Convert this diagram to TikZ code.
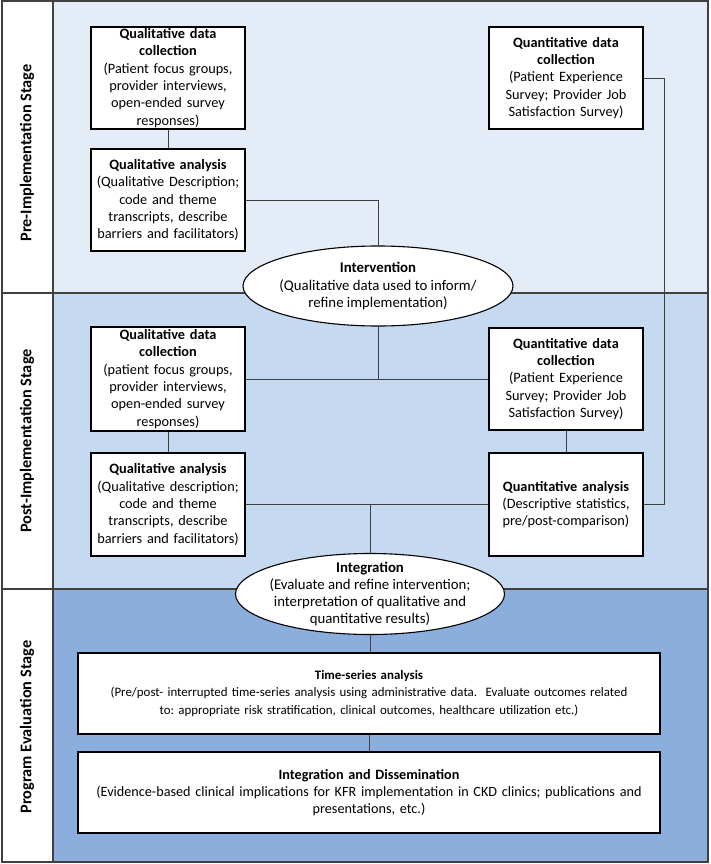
\documentclass[tikz,border=0pt]{standalone}
\usepackage{fontspec}
\setmainfont{Carlito}
\usetikzlibrary{shapes.geometric}
\frenchspacing
\definecolor{prefill}{RGB}{228,236,247}
\definecolor{postfill}{RGB}{197,217,240}
\definecolor{progfill}{RGB}{140,174,220}
\definecolor{rulegray}{RGB}{64,64,64}
\tikzset{
  stagebox/.style={rectangle,draw=black,fill=white,line width=1.1pt,align=center,
    inner xsep=2pt,inner ysep=0.5pt,font=\fontsize{14.3}{17.3}\selectfont},
  oval/.style={ellipse,draw=black,fill=white,line width=1.1pt,inner sep=0pt},
  ovaltext/.style={align=center,inner sep=0pt,font=\fontsize{14.8}{17.3}\selectfont},
  stagelabel/.style={rotate=90,font=\fontsize{16.3}{18}\selectfont\bfseries},
  link/.style={draw=rulegray,line width=0.9pt},
  frame/.style={draw=rulegray,line width=1.3pt}
}
\begin{document}
\begin{tikzpicture}[x=1pt,y=-1pt]
\useasboundingbox (0,0) rectangle (710,864);
\fill[prefill] (53,1) rectangle (708,293);
\fill[postfill] (53,293) rectangle (708,589);
\fill[progfill] (53,589) rectangle (708,862);
\draw[frame] (2,1) rectangle (708,862);
\draw[frame] (53,1) -- (53,862);
\draw[frame] (2,293) -- (708,293);
\draw[frame] (2,589) -- (708,589);
\node[stagelabel] (prelab) at (27,153) {Pre-Implementation Stage};
\node[stagelabel] (postlab) at (27,441) {Post-Implementation Stage};
\node[stagelabel] (proglab) at (27,727) {Program Evaluation Stage};
% pre-implementation
\node[stagebox,text width=150,minimum height=102] (qdcpre) at (168,78)
  {\textbf{Qualitative data}\\\textbf{collection}\\(Patient focus groups,\\provider interviews,\\open-ended survey\\responses)};
\node[stagebox,text width=150,minimum height=102] (qapre) at (168,200)
  {\textbf{Qualitative analysis}\\(Qualitative Description;\\code and theme\\transcripts, describe\\barriers and facilitators)};
\node[stagebox,text width=150,minimum height=102] (qncpre) at (566,78)
  {\textbf{Quantitative data}\\\textbf{collection}\\(Patient Experience\\Survey; Provider Job\\Satisfaction Survey)};
% post-implementation
\node[stagebox,text width=150,minimum height=104] (qdcpost) at (168,379)
  {\textbf{Qualitative data}\\\textbf{collection}\\(patient focus groups,\\provider interviews,\\open-ended survey\\responses)};
\node[stagebox,text width=150,minimum height=103] (qapost) at (168,504.5)
  {\textbf{Qualitative analysis}\\(Qualitative description;\\code and theme\\transcripts, describe\\barriers and facilitators)};
\node[stagebox,text width=150,minimum height=102] (qncpost) at (566,379)
  {\textbf{Quantitative data}\\\textbf{collection}\\(Patient Experience\\Survey; Provider Job\\Satisfaction Survey)};
\node[stagebox,text width=150,minimum height=103] (qnapost) at (566,504.5)
  {\textbf{Quantitative analysis}\\(Descriptive statistics,\\pre/post-comparison)};
% program evaluation
\node[stagebox,font=\fontsize{12.9}{17.3}\selectfont,text width=578,minimum height=81] (tsa) at (369,693.5)
  {\textbf{Time-series analysis}\\(Pre/post- interrupted time-series analysis using administrative data.\ \ Evaluate outcomes related\\to: appropriate risk stratification, clinical outcomes, healthcare utilization etc.)};
\node[stagebox,font=\fontsize{14.2}{17.3}\selectfont,text width=578,minimum height=81] (diss) at (369,792.5)
  {\textbf{Integration and Dissemination}\\(Evidence-based clinical implications for KFR implementation in CKD clinics; publications and\\presentations, etc.)};
% links
\draw[link] (qdcpre) -- (qapre);
\draw[link] (qdcpost) -- (qapost);
\draw[link] (qncpost) -- (qnapost);
\draw[link] (tsa) -- (diss);
\draw[link] (qncpre.east) -- ++(21,0) |- (qnapost.east);
\draw[link] (qdcpost.east) -- (qncpost.west);
\draw[link] (qapost.east) -- (qnapost.west);
\node[oval,minimum width=270,minimum height=80] (intv) at (378,286) {};
\node[ovaltext] (intvtext) at (intv) {\textbf{Intervention}\\(Qualitative data used to inform/\\refine implementation)};
\node[oval,minimum width=269,minimum height=81] (integ) at (370,594) {};
\node[ovaltext] (integtext) at (integ) {\textbf{Integration}\\(Evaluate and refine intervention;\\interpretation of qualitative and\\quantitative results)};
\draw[link] (qapre.east) -| (intv.north);
\draw[link] (intv.south) -- (intv.south |- qdcpost.east);
\draw[link] (integ.north) -- (integ.north |- qapost.east);
\draw[link] (integ.south) -- (tsa.north -| integ.south);
\end{tikzpicture}
\end{document}
